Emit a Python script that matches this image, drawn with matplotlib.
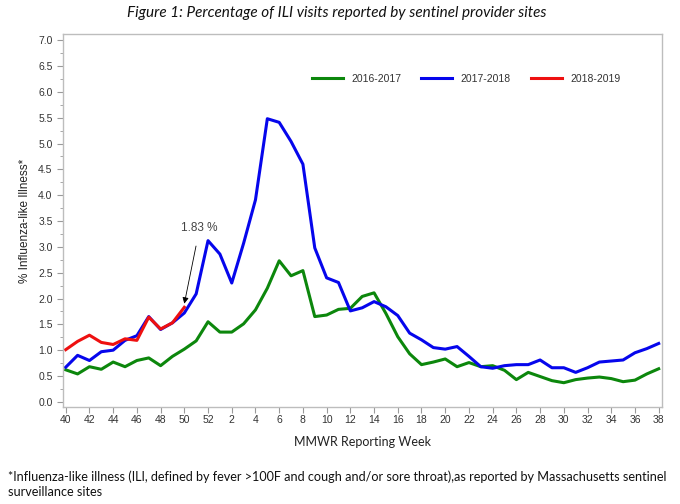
import matplotlib
matplotlib.use("Agg")
import matplotlib.pyplot as plt

weeks = list(range(40, 53)) + list(range(1, 39))

ili_2016_2017 = [0.62, 0.54, 0.68, 0.63, 0.77, 0.68, 0.80, 0.85, 0.70, 0.88,
                 1.02, 1.18, 1.55, 1.35, 1.35, 1.51, 1.78, 2.20, 2.73, 2.44,
                 2.54, 1.65, 1.68, 1.79, 1.81, 2.04, 2.11, 1.71, 1.26, 0.93,
                 0.72, 0.77, 0.83, 0.68, 0.76, 0.68, 0.70, 0.61, 0.43, 0.57,
                 0.49, 0.41, 0.37, 0.43, 0.46, 0.48, 0.45, 0.39, 0.42, 0.54,
                 0.64]

ili_2017_2018 = [0.67, 0.90, 0.80, 0.97, 1.00, 1.19, 1.28, 1.65, 1.40, 1.53,
                 1.72, 2.09, 3.12, 2.86, 2.30, 3.07, 3.91, 5.48, 5.41, 5.04,
                 4.60, 2.98, 2.40, 2.31, 1.76, 1.82, 1.94, 1.84, 1.67, 1.33,
                 1.20, 1.05, 1.02, 1.07, 0.88, 0.68, 0.65, 0.70, 0.72, 0.72,
                 0.81, 0.66, 0.66, 0.57, 0.66, 0.77, 0.79, 0.81, 0.95, 1.03,
                 1.13]

ili_2018_2019 = [1.01, 1.17, 1.29, 1.15, 1.11, 1.22, 1.19, 1.64, 1.41, 1.53,
                 1.83]

season_labels = ["2016-2017", "2017-2018", "2018-2019"]
season_colors = ["#0c870c", "#0606ec", "#ee1010"]

annot_text = "1.83 %"

fig = plt.figure(figsize=(6.8, 5.04), dpi=100)
ax = fig.add_axes([63/680, 1-407/504, 599/680, 373/504])

idx = list(range(len(weeks)))
ax.plot(idx, ili_2016_2017, color=season_colors[0], lw=2.2, label=season_labels[0], solid_joinstyle='round')
ax.plot(idx, ili_2017_2018, color=season_colors[1], lw=2.2, label=season_labels[1], solid_joinstyle='round')
ax.plot(list(range(len(ili_2018_2019))), ili_2018_2019, color=season_colors[2], lw=2.2,
        label=season_labels[2], solid_joinstyle='round')

ax.set_xlim(-0.23, 50.28)
ax.set_ylim(-0.1, 7.12)

ax.set_xticks(idx[::2])
ax.set_xticklabels([str(w) for w in weeks[::2]])
ax.set_yticks([i * 0.5 for i in range(15)])
ax.set_yticklabels([f"{i*0.5:.1f}" for i in range(15)])
ax.set_yticks([0.25 + i * 0.5 for i in range(14)], minor=True)

for s in ax.spines.values():
    s.set_color("#bdbdbd")
    s.set_linewidth(1.0)

ax.tick_params(axis='both', which='major', colors="#9a9a9a", labelcolor="#333333",
               labelsize=7.5, length=4, width=0.8)
ax.tick_params(axis='y', which='minor', colors="#9a9a9a", length=2.5, width=0.6)
ax.tick_params(axis='x', pad=2)
for lab in ax.get_xticklabels() + ax.get_yticklabels():
    lab.set_family("Liberation Sans")

ax.set_ylabel("% Influenza-like Illness*", fontsize=8.5, family="Liberation Sans",
              color="#222222", labelpad=5)
ax.set_xlabel("MMWR Reporting Week", fontsize=9, family="Lato", color="#222222", labelpad=8)

leg = ax.legend(loc="center", bbox_to_anchor=(0.673, 0.879), ncol=3, frameon=False,
                handlelength=3.0, columnspacing=1.9, handletextpad=0.8,
                prop={"family": "Liberation Sans", "size": 7.5})
for t in leg.get_texts():
    t.set_color("#333333")

ax.annotate(annot_text, xy=(10.0, 1.90), xytext=(11.3, 3.37),
            fontsize=8.5, family="Liberation Sans", color="#444444",
            ha="center", va="center",
            arrowprops=dict(arrowstyle="-|>", color="black", lw=0.6,
                            shrinkA=7, shrinkB=0, mutation_scale=9))

fig.text(0.495, 1-13/504, "Figure 1: Percentage of ILI visits reported by sentinel provider sites",
         ha="center", va="center", fontsize=11, style="italic", family="Lato", color="#111111")

fig.text(8/680, 1-477/504,
         "*Influenza-like illness (ILI, defined by fever >100F and cough and/or sore throat),as reported by Massachusetts sentinel",
         ha="left", va="center", fontsize=9.1, family="Lato", color="#111111")
fig.text(8/680, 1-492/504, "surveillance sites",
         ha="left", va="center", fontsize=9.1, family="Lato", color="#111111")

fig.savefig("out.png", dpi=100)
